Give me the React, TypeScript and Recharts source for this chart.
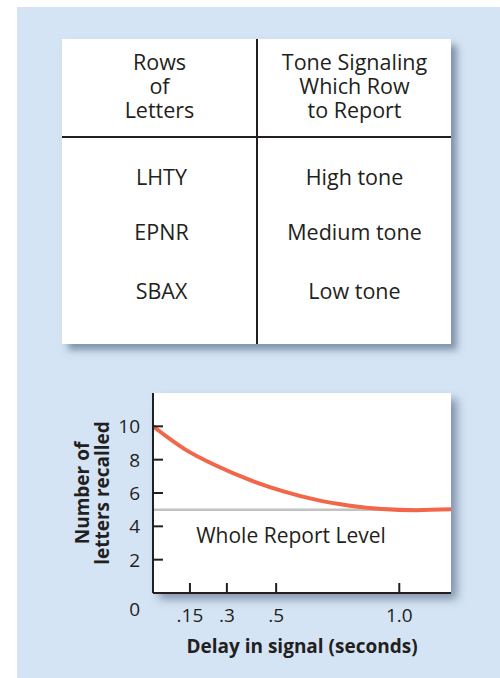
import { LineChart, Line, XAxis, YAxis, ReferenceLine, ReferenceArea } from "recharts";

const tableHeaders = [["Rows", "of", "Letters"], ["Tone Signaling", "Which Row", "to Report"]];
const letterRows = ["LHTY", "EPNR", "SBAX"];
const toneRows = ["High tone", "Medium tone", "Low tone"];

const delay = [0, 0.13, 0.26, 0.39, 0.53, 0.66, 0.8, 0.93, 1.07, 1.21];
const recalled = [10, 8.62, 7.62, 6.8, 6.1, 5.6, 5.24, 5.04, 4.97, 5.02];
const xTicks = [0.15, 0.3, 0.5, 1.0];
const xTickLabels = [".15", ".3", ".5", "1.0"];
const yTicks = [0, 2, 4, 6, 8, 10];
const wholeReportLevel = 5;

const data = delay.map((d, i) => ({ delay: d, recalled: recalled[i] }));

const FONT = "'Open Sans', 'Noto Sans', sans-serif";
const INK = "#231f20";

function YTick(props: any) {
  const { x, y, payload } = props;
  const v = payload.value;
  const ax = x + 13;
  return (
    <g>
      {v !== 0 && <line x1={ax} x2={ax + 10} y1={y} y2={y} stroke={INK} strokeWidth={2} />}
      <text x={x} y={v === 0 ? y + 16 : y} textAnchor="end" dominantBaseline="central" fontSize={19} fill={INK} fontFamily={FONT}>
        {v}
      </text>
    </g>
  );
}

function XTick(props: any) {
  const { x, y, payload } = props;
  const idx = xTicks.indexOf(payload.value);
  return (
    <g>
      <line x1={x} x2={x} y1={y} y2={y - 10} stroke={INK} strokeWidth={2} />
      <text x={x} y={y + 22} textAnchor="middle" dominantBaseline="central" fontSize={19} fill={INK} fontFamily={FONT}>
        {xTickLabels[idx]}
      </text>
    </g>
  );
}

function YLabel(props: any) {
  const { viewBox } = props;
  const cx = viewBox.x;
  const cy = viewBox.y + viewBox.height / 2;
  return (
    <text transform={`rotate(-90 ${cx} ${cy})`} x={cx} y={cy} textAnchor="middle" fontSize={19} fontWeight={700} fill={INK} fontFamily={FONT}>
      <tspan x={cx} dy={-4}>Number of</tspan>
      <tspan x={cx} dy={20}>letters recalled</tspan>
    </text>
  );
}

function WholeLabel(props: any) {
  const { viewBox } = props;
  return (
    <text x={viewBox.x + 138} y={viewBox.y + 25} textAnchor="middle" dominantBaseline="central" fontSize={21} fill={INK} fontFamily={FONT}>
      Whole Report Level
    </text>
  );
}

function PlotBackground(props: any) {
  const { x, y, width, height } = props;
  return (
    <rect x={x} y={y} width={width} height={height} fill="#fff" style={{ filter: "drop-shadow(6px 6px 5px rgba(60,80,110,0.55))" }} />
  );
}

function ToneTable() {
  const cell = { color: INK, fontFamily: FONT, fontSize: 21.5, textAlign: "center" as const };
  return (
    <div
      style={{
        position: "absolute",
        left: 62,
        top: 39,
        width: 389,
        height: 305,
        background: "#fff",
        boxShadow: "6px 6px 7px rgba(60,80,110,0.55)",
      }}
    >
      <div style={{ position: "absolute", left: 194, top: 0, width: 2, height: 305, background: INK }} />
      <div style={{ position: "absolute", left: 0, top: 97, width: 389, height: 2, background: INK }} />
      {tableHeaders.map((lines, c) => (
        <div key={c} style={{ ...cell, position: "absolute", left: c * 195, top: 11, width: 195, lineHeight: "24px" }}>
          {lines.map((l) => (
            <div key={l}>{l}</div>
          ))}
        </div>
      ))}
      {letterRows.map((r, i) => (
        <div key={r} style={{ ...cell, position: "absolute", left: 2, top: [126, 181, 240][i], width: 195, lineHeight: "24px" }}>
          {r}
        </div>
      ))}
      {toneRows.map((r, i) => (
        <div key={r} style={{ ...cell, position: "absolute", left: 195, top: [126, 181, 240][i], width: 195, lineHeight: "24px" }}>
          {r}
        </div>
      ))}
    </div>
  );
}

export default function App() {
  return (
    <div style={{ position: "absolute", left: 0, top: 0, width: 500, height: 678, background: "#fff" }}>
      <div style={{ position: "absolute", left: 17, top: 7, width: 483, height: 671, background: "#d4e4f4" }} />
      <ToneTable />
      <div style={{ position: "absolute", left: 0, top: 380 }}>
        <LineChart width={500} height={298} data={data} margin={{ top: 13, right: 49, left: 93, bottom: 25 }}>
          <ReferenceArea x1={0} x2={1.21} y1={0} y2={12} shape={PlotBackground} ifOverflow="visible" />
          <XAxis
            dataKey="delay"
            type="number"
            domain={[0, 1.21]}
            ticks={xTicks}
            allowDataOverflow
            height={60}
            tickLine={false}
            tickSize={0}
            tickMargin={0}
            tick={XTick}
            axisLine={{ stroke: INK, strokeWidth: 2 }}
            label={{ value: "Delay in signal (seconds)", position: "insideBottom", offset: 0, fontSize: 19, fontWeight: 700, fill: INK, fontFamily: FONT }}
          />
          <YAxis
            type="number"
            domain={[0, 12]}
            ticks={yTicks}
            width={60}
            tickLine={false}
            tickSize={0}
            tickMargin={13}
            tick={YTick}
            axisLine={{ stroke: INK, strokeWidth: 2 }}
            label={<YLabel />}
          />
          <ReferenceLine y={wholeReportLevel} stroke="#c2c2c2" strokeWidth={2.5} label={<WholeLabel />} />
          <Line dataKey="recalled" type="monotone" stroke="#f26649" strokeWidth={4} dot={false} isAnimationActive={false} />
        </LineChart>
      </div>
    </div>
  );
}
